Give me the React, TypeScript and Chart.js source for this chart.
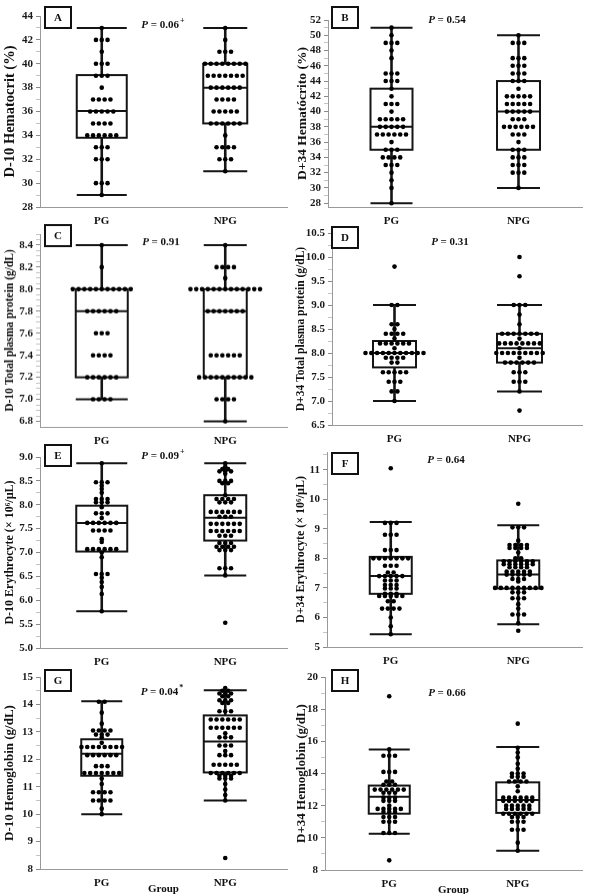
import React, { useEffect, useRef } from "react";
import { Chart, registerables } from "chart.js";
Chart.register(...registerables);

const GROUPS = ["PG", "NPG"];

// ---- Panel A: D-10 Hematocrit (%) ----
const A_PG: [number, number][] = [[43,1],[42,3],[41,1],[40,3],[39,3],[38,1],[37,4],[36,5],[35,4],[34,6],[33,3],[32,3],[30,3],[29,1]];
const A_NPG: [number, number][] = [[43,1],[42,1],[41,3],[40,8],[39,7],[38,6],[37,4],[36,5],[35,6],[34,1],[33,4],[32,3],[31,1]];
const A_PG_BOX = [29, 33.8, 36.05, 39.05, 43];
const A_NPG_BOX = [31, 35, 38, 40, 43];
const A_TICKS = [28, 30, 32, 34, 36, 38, 40, 42, 44];

// ---- Panel B: D+34 Hematócrito (%) ----
const B_PG: [number, number][] = [[51,1],[50,1],[49,3],[48,1],[47,1],[45,3],[44,3],[43,1],[42,1],[41,3],[40,1],[39,5],[38,5],[37,6],[36,1],[35,3],[34,4],[33,3],[32,1],[31,1],[30,1],[28,1]];
const B_NPG: [number, number][] = [[50,1],[49,3],[47,3],[46,3],[45,3],[44,3],[43,1],[42,5],[41,5],[40,5],[39,3],[38,6],[37,3],[36,1],[35,3],[34,3],[33,3],[32,3],[30,1]];
const B_PG_BOX = [28, 35, 38, 43, 51];
const B_NPG_BOX = [30, 35, 40, 44, 50];
const B_TICKS = [28, 30, 32, 34, 36, 38, 40, 42, 44, 46, 48, 50, 52];

// ---- Panel C: D-10 Total plasma protein (g/dL) ----
const C_PG: [number, number][] = [[8.4,1],[8.2,1],[8.0,11],[7.8,6],[7.6,3],[7.4,4],[7.2,6],[7.0,4]];
const C_NPG: [number, number][] = [[8.4,1],[8.2,4],[8.1,1],[8.0,13],[7.8,7],[7.4,6],[7.2,10],[7.0,4],[6.8,1]];
const C_PG_BOX = [7.0, 7.2, 7.8, 8.0, 8.4];
const C_NPG_BOX = [6.8, 7.2, 7.8, 8.0, 8.4];
const C_TICKS = [6.8, 7.0, 7.2, 7.4, 7.6, 7.8, 8.0, 8.2, 8.4];

// ---- Panel D: D+34 Total plasma protein (g/dL) ----
const D_PG: [number, number][] = [[9.8,1],[9.0,2],[8.6,2],[8.5,1],[8.4,4],[8.3,1],[8.2,6],[8.1,1],[8.0,11],[7.9,4],[7.8,2],[7.6,5],[7.4,3],[7.2,2],[7.0,1]];
const D_NPG: [number, number][] = [[10.0,1],[9.6,1],[9.0,3],[8.8,1],[8.6,1],[8.4,7],[8.3,1],[8.2,8],[8.1,1],[8.0,9],[7.9,1],[7.8,6],[7.6,3],[7.4,3],[7.2,1],[6.8,1]];
const D_PG_BOX = [7.0, 7.7, 8.0, 8.25, 9.0];
const D_NPG_BOX = [7.2, 7.8, 8.1, 8.4, 9.0];
const D_TICKS = [6.5, 7.0, 7.5, 8.0, 8.5, 9.0, 9.5, 10.0, 10.5];

// ---- Panel E: D-10 Erythrocyte ----
const E_PG: [number, number][] = [[8.87,1],[8.47,3],[8.4,1],[8.33,1],[8.25,1],[8.12,3],[8.05,3],[7.95,1],[7.82,3],[7.72,1],[7.62,6],[7.46,4],[7.28,1],[7.22,1],[7.07,6],[7.0,1],[6.9,1],[6.55,3],[6.47,1],[6.38,1],[6.28,1],[6.13,1],[5.77,1]];
const E_NPG: [number, number][] = [[8.87,1],[8.8,1],[8.75,2],[8.7,3],[8.65,1],[8.5,3],[8.45,2],[8.2,1],[8.12,4],[8.05,3],[7.85,6],[7.75,3],[7.6,6],[7.45,6],[7.35,3],[7.2,3],[7.12,4],[7.05,3],[6.67,3],[6.52,1],[5.53,1]];
const E_PG_BOX = [5.77, 7.02, 7.62, 7.98, 8.87];
const E_NPG_BOX = [6.52, 7.25, 7.73, 8.2, 8.87];
const E_TICKS = [5.0, 5.5, 6.0, 6.5, 7.0, 7.5, 8.0, 8.5, 9.0];

// ---- Panel F: D+34 Erythrocyte ----
const F_PG: [number, number][] = [[11.05,1],[9.2,3],[8.8,3],[8.28,3],[8.0,7],[7.75,3],[7.52,2],[7.4,5],[7.25,3],[7.1,3],[6.98,3],[6.8,3],[6.73,5],[6.55,2],[6.3,4],[6.0,1],[5.7,1],[5.43,1]];
const F_NPG: [number, number][] = [[9.85,1],[9.05,3],[8.6,1],[8.45,4],[8.35,4],[8.2,1],[8.0,2],[7.9,6],[7.8,6],[7.7,4],[7.55,5],[7.45,5],[7.3,3],[7.22,1],[7.0,9],[6.85,3],[6.65,3],[6.45,1],[6.3,1],[6.1,3],[5.8,1],[5.55,1]];
const F_PG_BOX = [5.43, 6.8, 7.4, 8.05, 9.23];
const F_NPG_BOX = [5.77, 6.98, 7.45, 7.93, 9.12];
const F_TICKS = [5, 6, 7, 8, 9, 10, 11];

// ---- Panel G: D-10 Hemoglobin ----
const G_PG: [number, number][] = [[14.1,2],[13.7,1],[13.3,1],[13.05,4],[12.9,3],[12.8,1],[12.6,1],[12.45,8],[12.15,6],[11.75,3],[11.5,7],[11.3,1],[11.1,1],[10.8,4],[10.5,4],[10.2,1],[10.0,1]];
const G_NPG: [number, number][] = [[14.6,1],[14.5,2],[14.4,3],[14.3,2],[14.15,3],[14.05,2],[13.75,3],[13.45,6],[13.15,6],[12.95,1],[12.8,3],[12.5,3],[12.3,1],[12.15,3],[11.8,5],[11.5,6],[11.4,3],[11.3,3],[11.1,1],[10.9,1],[10.7,1],[10.5,1],[8.4,1]];
const G_PG_BOX = [10.0, 11.4, 12.2, 12.73, 14.12];
const G_NPG_BOX = [10.5, 11.52, 12.65, 13.6, 14.52];
const G_TICKS = [8, 9, 10, 11, 12, 13, 14, 15];

// ---- Panel H: D+34 Hemoglobin ----
const H_PG: [number, number][] = [[18.8,1],[15.5,1],[15.1,3],[14.1,3],[13.5,2],[13.3,3],[13.0,6],[12.8,3],[12.5,3],[12.3,3],[12.0,1],[11.8,5],[11.6,3],[11.3,3],[11.0,3],[10.3,3],[8.6,1]];
const H_NPG: [number, number][] = [[17.1,1],[15.6,1],[15.3,1],[15.0,1],[14.6,1],[14.3,1],[14.0,3],[13.8,3],[13.5,4],[13.2,1],[12.9,1],[12.5,6],[12.3,6],[12.0,5],[11.8,5],[11.5,6],[11.3,3],[11.0,3],[10.5,3],[9.7,1],[9.2,1]];
const H_PG_BOX = [10.25, 11.5, 12.55, 13.25, 15.5];
const H_NPG_BOX = [9.2, 11.55, 12.35, 13.45, 15.65];
const H_TICKS = [8, 10, 12, 14, 16, 18, 20];

const FONT = '"Liberation Serif", "Times New Roman", serif';

type PanelCfg = {
  letter: string; title: string; titleSize: number; titleX: number;
  pValue: string; pSup: string; pPos: [number, number];
  letterPos: [number, number]; group?: boolean;
  left: number; top: number; areaLeft: number; areaRight: number;
  yMin: number; yMax: number; yMinPx: number; yMaxPx: number;
  ticks: number[]; minorDiv: number; decimals: number;
  pg: [number, number][]; npg: [number, number][];
  pgBox: number[]; npgBox: number[]; boxW: [number, number];
};

const PANELS: PanelCfg[] = [
  { letter: "A", title: "D-10 Hematocrit (%)", titleSize: 14.5, titleX: 10, pValue: "0.06", pSup: "+", pPos: [163, 25], letterPos: [45, 7],
    left: 0, top: 0, areaLeft: 40, areaRight: 287, yMin: 28, yMax: 44, yMinPx: 207, yMaxPx: 16,
    ticks: A_TICKS, minorDiv: 2, decimals: 0, pg: A_PG, npg: A_NPG, pgBox: A_PG_BOX, npgBox: A_NPG_BOX, boxW: [50, 44] },
  { letter: "B", title: "D+34 Hematócrito (%)", titleSize: 13.5, titleX: 8, pValue: "0.54", pSup: "", pPos: [152, 20], letterPos: [37, 7],
    left: 295, top: 0, areaLeft: 328, areaRight: 582, yMin: 27.5, yMax: 52, yMinPx: 207, yMaxPx: 20,
    ticks: B_TICKS, minorDiv: 2, decimals: 0, pg: B_PG, npg: B_NPG, pgBox: B_PG_BOX, npgBox: B_NPG_BOX, boxW: [42, 43] },
  { letter: "C", title: "D-10 Total plasma protein (g/dL)", titleSize: 11.5, titleX: 10, pValue: "0.91", pSup: "", pPos: [161, 22], letterPos: [45, 5],
    left: 0, top: 220, areaLeft: 40, areaRight: 287, yMin: 6.75, yMax: 8.5, yMinPx: 426.5, yMaxPx: 234,
    ticks: C_TICKS, minorDiv: 4, decimals: 1, pg: C_PG, npg: C_NPG, pgBox: C_PG_BOX, npgBox: C_NPG_BOX, boxW: [52, 43] },
  { letter: "D", title: "D+34 Total plasma protein (g/dL)", titleSize: 11.5, titleX: 6, pValue: "0.31", pSup: "", pPos: [155, 22], letterPos: [37, 7],
    left: 295, top: 220, areaLeft: 332, areaRight: 582, yMin: 6.5, yMax: 10.5, yMinPx: 425, yMaxPx: 233,
    ticks: D_TICKS, minorDiv: 2, decimals: 1, pg: D_PG, npg: D_NPG, pgBox: D_PG_BOX, npgBox: D_NPG_BOX, boxW: [43, 45] },
  { letter: "E", title: "D-10 Erythrocyte (× 10⁶/µL)", titleSize: 12, titleX: 10, pValue: "0.09", pSup: "+", pPos: [163, 16], letterPos: [45, 5],
    left: 0, top: 440, areaLeft: 40, areaRight: 287, yMin: 5, yMax: 9, yMinPx: 648, yMaxPx: 457,
    ticks: E_TICKS, minorDiv: 2, decimals: 1, pg: E_PG, npg: E_NPG, pgBox: E_PG_BOX, npgBox: E_NPG_BOX, boxW: [51, 42] },
  { letter: "F", title: "D+34 Erythrocyte (× 10⁶/µL)", titleSize: 12, titleX: 6, pValue: "0.64", pSup: "", pPos: [151, 20], letterPos: [37, 13],
    left: 295, top: 440, areaLeft: 327, areaRight: 582, yMin: 5, yMax: 11.6, yMinPx: 647, yMaxPx: 452,
    ticks: F_TICKS, minorDiv: 2, decimals: 0, pg: F_PG, npg: F_NPG, pgBox: F_PG_BOX, npgBox: F_NPG_BOX, boxW: [42, 42] },
  { letter: "G", title: "D-10 Hemoglobin (g/dL)", titleSize: 13, titleX: 10, pValue: "0.04", pSup: "*", pPos: [162, 27], letterPos: [45, 5], group: true,
    left: 0, top: 665, areaLeft: 40, areaRight: 287, yMin: 8, yMax: 15, yMinPx: 869, yMaxPx: 677,
    ticks: G_TICKS, minorDiv: 2, decimals: 0, pg: G_PG, npg: G_NPG, pgBox: G_PG_BOX, npgBox: G_NPG_BOX, boxW: [41, 43] },
  { letter: "H", title: "D+34 Hemoglobin (g/dL)", titleSize: 13, titleX: 6, pValue: "0.66", pSup: "", pPos: [152, 28], letterPos: [37, 5], group: true,
    left: 295, top: 665, areaLeft: 325, areaRight: 582, yMin: 8, yMax: 20, yMinPx: 870, yMaxPx: 677,
    ticks: H_TICKS, minorDiv: 2, decimals: 0, pg: H_PG, npg: H_NPG, pgBox: H_PG_BOX, npgBox: H_NPG_BOX, boxW: [41, 43] },
];

const X_AXIS_H = 25;
const BOTTOM_PAD = 2;

function Panel({ p }: { p: PanelCfg }) {
  const ref = useRef<HTMLCanvasElement>(null);
  const height = p.yMinPx - p.top + X_AXIS_H + BOTTOM_PAD;
  useEffect(() => {
    const canvas = ref.current!;
    const pxPerUnit = (p.areaRight - p.areaLeft) / 2;
    const dx = 5.8 / pxPerUnit;
    const mkPts = (dots: [number, number][], gi: number) =>
      dots.flatMap(([v, n]) => Array.from({ length: n }, (_, k) => ({ x: gi + 0.5 + (k - (n - 1) / 2) * dx, y: v })));
    const step = p.ticks[1] - p.ticks[0];
    const minorStep = step / p.minorDiv;
    const isMajor = (v: number) => p.ticks.some((t) => Math.abs(t - v) < 1e-6);

    const boxPlugin = {
      id: "boxes",
      beforeDatasetsDraw(chart: any) {
        const { ctx } = chart;
        const x = chart.scales.x, y = chart.scales.y;
        ctx.save();
        ctx.strokeStyle = "#151515";
        [p.pgBox, p.npgBox].forEach((st, gi) => {
          const [lo, q1, med, q3, hi] = st;
          const cx = x.getPixelForValue(gi + 0.5);
          const hw = p.boxW[gi] / 2;
          const yl = y.getPixelForValue(lo), y1 = y.getPixelForValue(q1), ym = y.getPixelForValue(med);
          const y3 = y.getPixelForValue(q3), yh = y.getPixelForValue(hi);
          ctx.lineWidth = 2.6;
          ctx.beginPath();
          ctx.moveTo(cx, yl); ctx.lineTo(cx, y1);
          ctx.moveTo(cx, y3); ctx.lineTo(cx, yh);
          ctx.stroke();
          ctx.lineWidth = 2;
          ctx.beginPath();
          ctx.moveTo(cx - hw, yl); ctx.lineTo(cx + hw, yl);
          ctx.moveTo(cx - hw, yh); ctx.lineTo(cx + hw, yh);
          ctx.moveTo(cx - hw, ym); ctx.lineTo(cx + hw, ym);
          ctx.stroke();
          ctx.strokeRect(cx - hw, y3, 2 * hw, y1 - y3);
        });
        ctx.restore();
      },
    };

    const annotPlugin = {
      id: "annot",
      afterDraw(chart: any) {
        const { ctx } = chart;
        ctx.save();
        const [lx, ly] = p.letterPos;
        ctx.fillStyle = "#fff";
        ctx.fillRect(lx, ly, 26, 21);
        ctx.strokeStyle = "#111";
        ctx.lineWidth = 2;
        ctx.strokeRect(lx, ly, 26, 21);
        ctx.fillStyle = "#111";
        ctx.font = `bold 11px ${FONT}`;
        ctx.textAlign = "center";
        ctx.textBaseline = "middle";
        ctx.fillText(p.letter, lx + 13, ly + 11);
        const [px, py] = p.pPos;
        const f1 = `italic bold 11px ${FONT}`, f2 = `bold 11px ${FONT}`, f3 = `bold 8px ${FONT}`;
        const rest = ` = ${p.pValue}`;
        ctx.font = f1; const w1 = ctx.measureText("P").width;
        ctx.font = f2; const w2 = ctx.measureText(rest).width;
        ctx.font = f3; const w3 = p.pSup ? ctx.measureText(p.pSup).width + 1 : 0;
        let sx = px - (w1 + w2 + w3) / 2;
        ctx.textAlign = "left";
        ctx.font = f1; ctx.fillText("P", sx, py); sx += w1;
        ctx.font = f2; ctx.fillText(rest, sx, py); sx += w2;
        if (p.pSup) { ctx.font = f3; ctx.fillText(p.pSup, sx + 1, py - 4); }
        if (p.group) {
          const a = chart.chartArea;
          ctx.font = `bold 11px ${FONT}`;
          ctx.textAlign = "center";
          ctx.fillText("Group", (a.left + a.right) / 2, height - 7);
        }
        ctx.restore();
      },
    };

    const chart = new Chart(canvas, {
      type: "scatter",
      data: {
        datasets: [
          { data: mkPts(p.pg, 0), pointRadius: 2.3, pointBackgroundColor: "#000", pointBorderWidth: 0 },
          { data: mkPts(p.npg, 1), pointRadius: 2.3, pointBackgroundColor: "#000", pointBorderWidth: 0 },
        ],
      },
      options: {
        responsive: false,
        animation: false,
        layout: { padding: { top: p.yMaxPx - p.top, left: 0, right: p.left + 295 - p.areaRight, bottom: BOTTOM_PAD } },
        plugins: { legend: { display: false }, tooltip: { enabled: false } },
        scales: {
          x: {
            type: "linear", min: 0, max: 2,
            afterBuildTicks: (s: any) => { s.ticks = [{ value: 0.5 }, { value: 1.5 }]; },
            afterFit: (s: any) => { s.height = X_AXIS_H; },
            ticks: { callback: (_v: any, i: number) => GROUPS[i], font: { family: FONT, size: 11, weight: "bold" }, color: "#111", padding: 8, maxRotation: 0, autoSkip: false },
            grid: { display: false, drawTicks: false },
            border: { display: true, color: "#9a9a9a", width: 1 },
          },
          y: {
            type: "linear", min: p.yMin, max: p.yMax,
            afterBuildTicks: (s: any) => {
              const out: any[] = [];
              for (let v = p.ticks[0]; v <= p.yMax + 1e-9; v += minorStep) {
                const r = Math.round(v * 1e6) / 1e6;
                if (r >= p.yMin - 1e-9) out.push({ value: r });
              }
              s.ticks = out;
            },
            afterFit: (s: any) => { s.width = p.areaLeft - p.left; },
            ticks: {
              callback: (v: any) => (isMajor(Number(v)) ? Number(v).toFixed(p.decimals) : ""),
              font: { family: FONT, size: 11, weight: "bold" }, color: "#1a1a1a", padding: 3, autoSkip: false,
            },
            grid: {
              display: true, drawOnChartArea: false, drawTicks: true, tickLength: 4,
              tickColor: (ctx: any) => (ctx.tick && isMajor(ctx.tick.value) ? "#8a8a8a" : "#c4c4c4"),
            },
            border: { display: true, color: "#9a9a9a", width: 1 },
            title: {
              display: true, text: p.title, color: "#111",
              font: { family: FONT, size: p.titleSize, weight: "bold", lineHeight: 1 },
              padding: { top: Math.max(0, p.titleX - p.titleSize / 2), bottom: 0 },
            },
          },
        },
      } as any,
      plugins: [boxPlugin, annotPlugin],
    });
    return () => chart.destroy();
  }, []);
  return (
    <canvas ref={ref} width={295} height={height}
      style={{ position: "absolute", left: p.left, top: p.top, width: 295, height }} />
  );
}

export default function App() {
  return (
    <div style={{ position: "absolute", left: 0, top: 0, width: 590, height: 894, background: "#fff", overflow: "hidden" }}>
      {PANELS.map((p) => <Panel key={p.letter} p={p} />)}
    </div>
  );
}
